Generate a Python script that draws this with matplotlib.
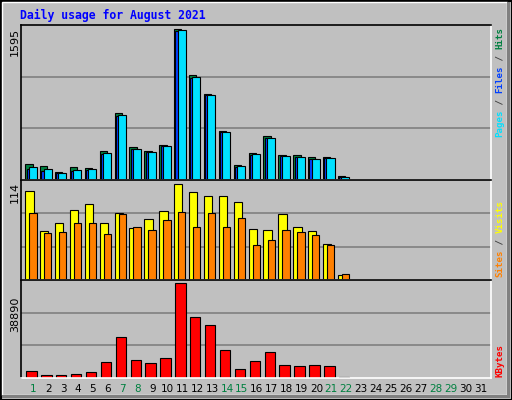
import matplotlib
matplotlib.use("Agg")
import matplotlib.pyplot as plt
from matplotlib.patches import Rectangle

days = list(range(1, 32))
hits = [166,144,90,134,123,307,707,350,307,372,1595,1108,913,523,155,285,469,263,263,242,242,47]
files = [120,100,76,95,108,280,680,325,292,357,1580,1082,898,508,140,270,445,250,240,218,228,34]
pages = [134,112,79,101,112,285,686,328,296,361,1584,1086,902,512,144,274,448,253,242,220,231,36]
visits = [106,58,68,83,90,68,79,62,72,82,114,104,100,99,93,61,59,78,63,58,43,6]
sites = [79,56,57,68,68,55,78,63,59,71,81,63,79,63,73,41,47,59,57,53,42,7]
kbytes = [2828,1414,1414,1838,2262,6504,16685,7353,6080,8201,38890,25170,21776,11595,3535,6929,10747,5232,4808,5232,4808,300]
weekend = [1,7,8,14,15,21,22,28,29]

W, H = 512, 400
fig = plt.figure(figsize=(W/100, H/100), dpi=100)
fig.patch.set_facecolor('#C0C0C0')
fig.add_artist(Rectangle((0.5/W, 0.5/H), (W-1)/W, (H-1)/H, transform=fig.transFigure, fill=False, ec='black', lw=1.5))
fig.add_artist(Rectangle((2/W, 5/H), (W-7)/W, (H-7)/H, transform=fig.transFigure, fill=False, ec='white', lw=1))
fig.add_artist(Rectangle((2/W, 2/H), (W-4)/W, 3/H, transform=fig.transFigure, color='#808080', lw=0))
fig.add_artist(Rectangle(((W-5)/W, 2/H), 3/W, (H-4)/H, transform=fig.transFigure, color='#808080', lw=0))

x0, x1 = 20.7, 491
def mkax(top, bot):
    ax = fig.add_axes([x0/W, 1-bot/H, (x1-x0)/W, (bot-top)/H])
    ax.set_facecolor('#C0C0C0')
    ax.set_xlim(0.155, 31.74)
    ax.set_xticks([]); ax.set_yticks([])
    for s in ['top', 'left']:
        ax.spines[s].set_color('black')
    for s in ['bottom', 'right']:
        ax.spines[s].set_color('white')
    for s in ax.spines.values():
        s.set_linewidth(1.2)
    for f in (1/3, 2/3):
        ax.plot([0, 1], [f, f], transform=ax.transAxes, color='#808080', lw=1.2, zorder=0)
    return ax

n = len(hits)
d = days[:n]
ax1 = mkax(25, 180)
ax1.set_ylim(0, 1595 * 455 / 442)
ax1.bar([v - 0.54 for v in d], hits, width=0.49, align='edge', color='#008040', ec='black', lw=0.8)
ax1.bar([v - 0.45 for v in d], files, width=0.49, align='edge', color='#0040FF', ec='black', lw=0.8)
ax1.bar([v - 0.31 for v in d], pages, width=0.54, align='edge', color='#00E0FF', ec='black', lw=0.8)

ax2 = mkax(180, 280)
ax2.set_ylim(0, 114 * 287 / 276)
ax2.bar([v - 0.54 for v in d], visits, width=0.56, align='edge', color='#FFFF00', ec='black', lw=0.8)
ax2.bar([v - 0.27 for v in d], sites, width=0.49, align='edge', color='#FF8000', ec='black', lw=0.8)

ax3 = mkax(280, 378)
ax3.set_ylim(0, 38890 * 284 / 275)
ax3.bar([v - 0.47 for v in d], kbytes, width=0.7, align='edge', color='#FF0000', ec='black', lw=0.8)

fig.text(20/W, 1-15/H, "Daily usage for August 2021", color='#0000FF', family='DejaVu Sans Mono',
         weight='bold', fontsize=8.3, va='center', ha='left')
for txt, ytop in (("1595", 28), ("114", 182), ("38890", 297)):
    fig.text(15/W, 1-ytop/H, txt, rotation=90, fontsize=8, va='top', ha='center', color='black')

cw = 5.5
def vlabel(pieces, ybot):
    y = ybot
    for s, c in pieces:
        fig.text(500/W, 1-y/H, s, rotation=90, fontsize=6.6, family='DejaVu Sans Mono', weight='bold',
                 va='bottom', ha='center', color=c)
        y -= cw * len(s)
vlabel([("Pages", '#00E0FF'), (" / ", '#404040'), ("Files", '#0040FF'), (" / ", '#404040'), ("Hits", '#008040')], 137)
vlabel([("Sites", '#FF8000'), (" / ", '#404040'), ("Visits", '#FFFF00')], 277)
vlabel([("KBytes", '#FF0000')], 377)

for day in days:
    xp = 33.3 + (day - 1) * 14.9
    fig.text(xp/W, 1-389/H, str(day), fontsize=7.5, ha='center', va='center',
             color='#008040' if day in weekend else 'black')

fig.savefig('out.png', dpi=100, facecolor=fig.get_facecolor())
